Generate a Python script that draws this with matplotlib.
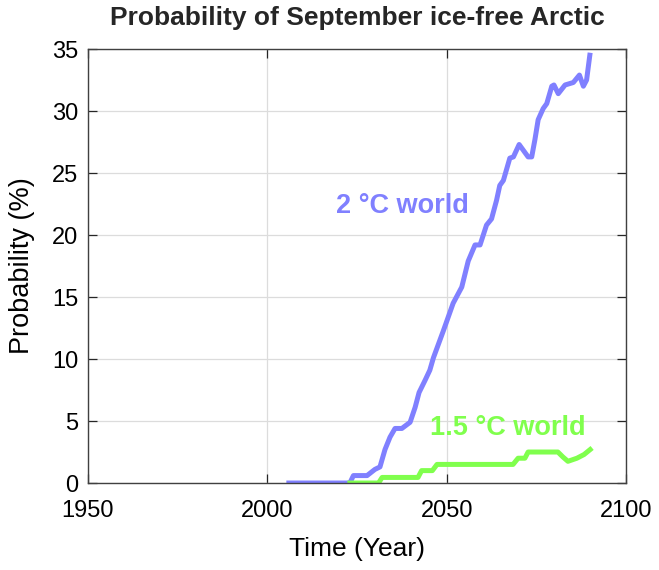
import matplotlib
matplotlib.use('Agg')
import matplotlib.pyplot as plt

# 2 degC world curve (year, probability %)
years_2c = [2006, 2023, 2024, 2027.8, 2030, 2031.4, 2032.8, 2034.2, 2035.6, 2037.5,
            2039.8, 2041.2, 2042.3, 2044, 2045.3, 2046.3, 2049.1, 2051.8, 2054.2,
            2056, 2057.9, 2059.3, 2061.1, 2062.5, 2063.9, 2064.8, 2065.8, 2067.6,
            2068.6, 2070.2, 2072.7, 2073.7, 2074.6, 2075.5, 2076.9, 2077.9, 2079.3,
            2079.9, 2081.1, 2083, 2085.3, 2087, 2088.1, 2089, 2089.9]
prob_2c = [0, 0, 0.6, 0.6, 1.1, 1.3, 2.7, 3.7, 4.4, 4.4,
           4.9, 6.1, 7.3, 8.3, 9.1, 10.1, 12.3, 14.5, 15.8,
           17.9, 19.2, 19.2, 20.8, 21.3, 22.8, 24.0, 24.4, 26.2,
           26.3, 27.3, 26.3, 26.3, 27.7, 29.3, 30.2, 30.6, 32.0,
           32.1, 31.4, 32.1, 32.3, 32.9, 32.0, 32.5, 34.5]

# 1.5 degC world curve
years_15c = [2023, 2031, 2032, 2042, 2043, 2046, 2047.3, 2068.5, 2069.9, 2071.8,
             2072.7, 2081, 2082.4, 2083.8, 2086.3, 2088.3, 2090]
prob_15c = [0, 0, 0.45, 0.45, 1.0, 1.0, 1.5, 1.5, 2.0, 2.0,
            2.5, 2.5, 2.1, 1.75, 2.0, 2.3, 2.7]

x_ticks = [1950, 2000, 2050, 2100]
y_ticks = [0, 5, 10, 15, 20, 25, 30, 35]

blue = '#8080FF'
green = '#80FF4D'

plt.rcParams['font.family'] = ['Liberation Sans', 'DejaVu Sans']

fig = plt.figure(figsize=(6.59, 5.70), dpi=100)
ax = fig.add_axes([0.1335, 0.1526, 0.8165, 0.7614])

ax.plot(years_2c, prob_2c, color=blue, linewidth=3.6, solid_joinstyle='round')
ax.plot(years_15c, prob_15c, color=green, linewidth=3.6, solid_joinstyle='round')

ax.text(2037.8, 22.3, '2 °C world', color=blue, fontsize=19.5, fontweight='bold',
        ha='center', va='center')
ax.text(2067.1, 4.4, '1.5 °C world', color=green, fontsize=19.5, fontweight='bold',
        ha='center', va='center')

ax.set_xlim(1950, 2100)
ax.set_ylim(0, 35)
ax.set_xticks(x_ticks)
ax.set_yticks(y_ticks)
ax.grid(True, color='#dcdcdc', linewidth=0.9)
ax.set_axisbelow(True)
ax.tick_params(direction='in', length=6.5, width=0.9, top=True, right=True,
               labelsize=17, colors='#262626', labelcolor='black')
ax.tick_params(axis='x', pad=12)
ax.tick_params(axis='y', pad=7)
for s in ax.spines.values():
    s.set_color('#404040')
    s.set_linewidth(1.0)

ax.set_xlabel('Time (Year)', fontsize=19, labelpad=11)
ax.set_ylabel('Probability (%)', fontsize=19.5, labelpad=12)
ax.set_title('Probability of September ice-free Arctic', fontsize=19,
             fontweight='bold', color='#262626', pad=17)

fig.savefig('out.png', dpi=100)
